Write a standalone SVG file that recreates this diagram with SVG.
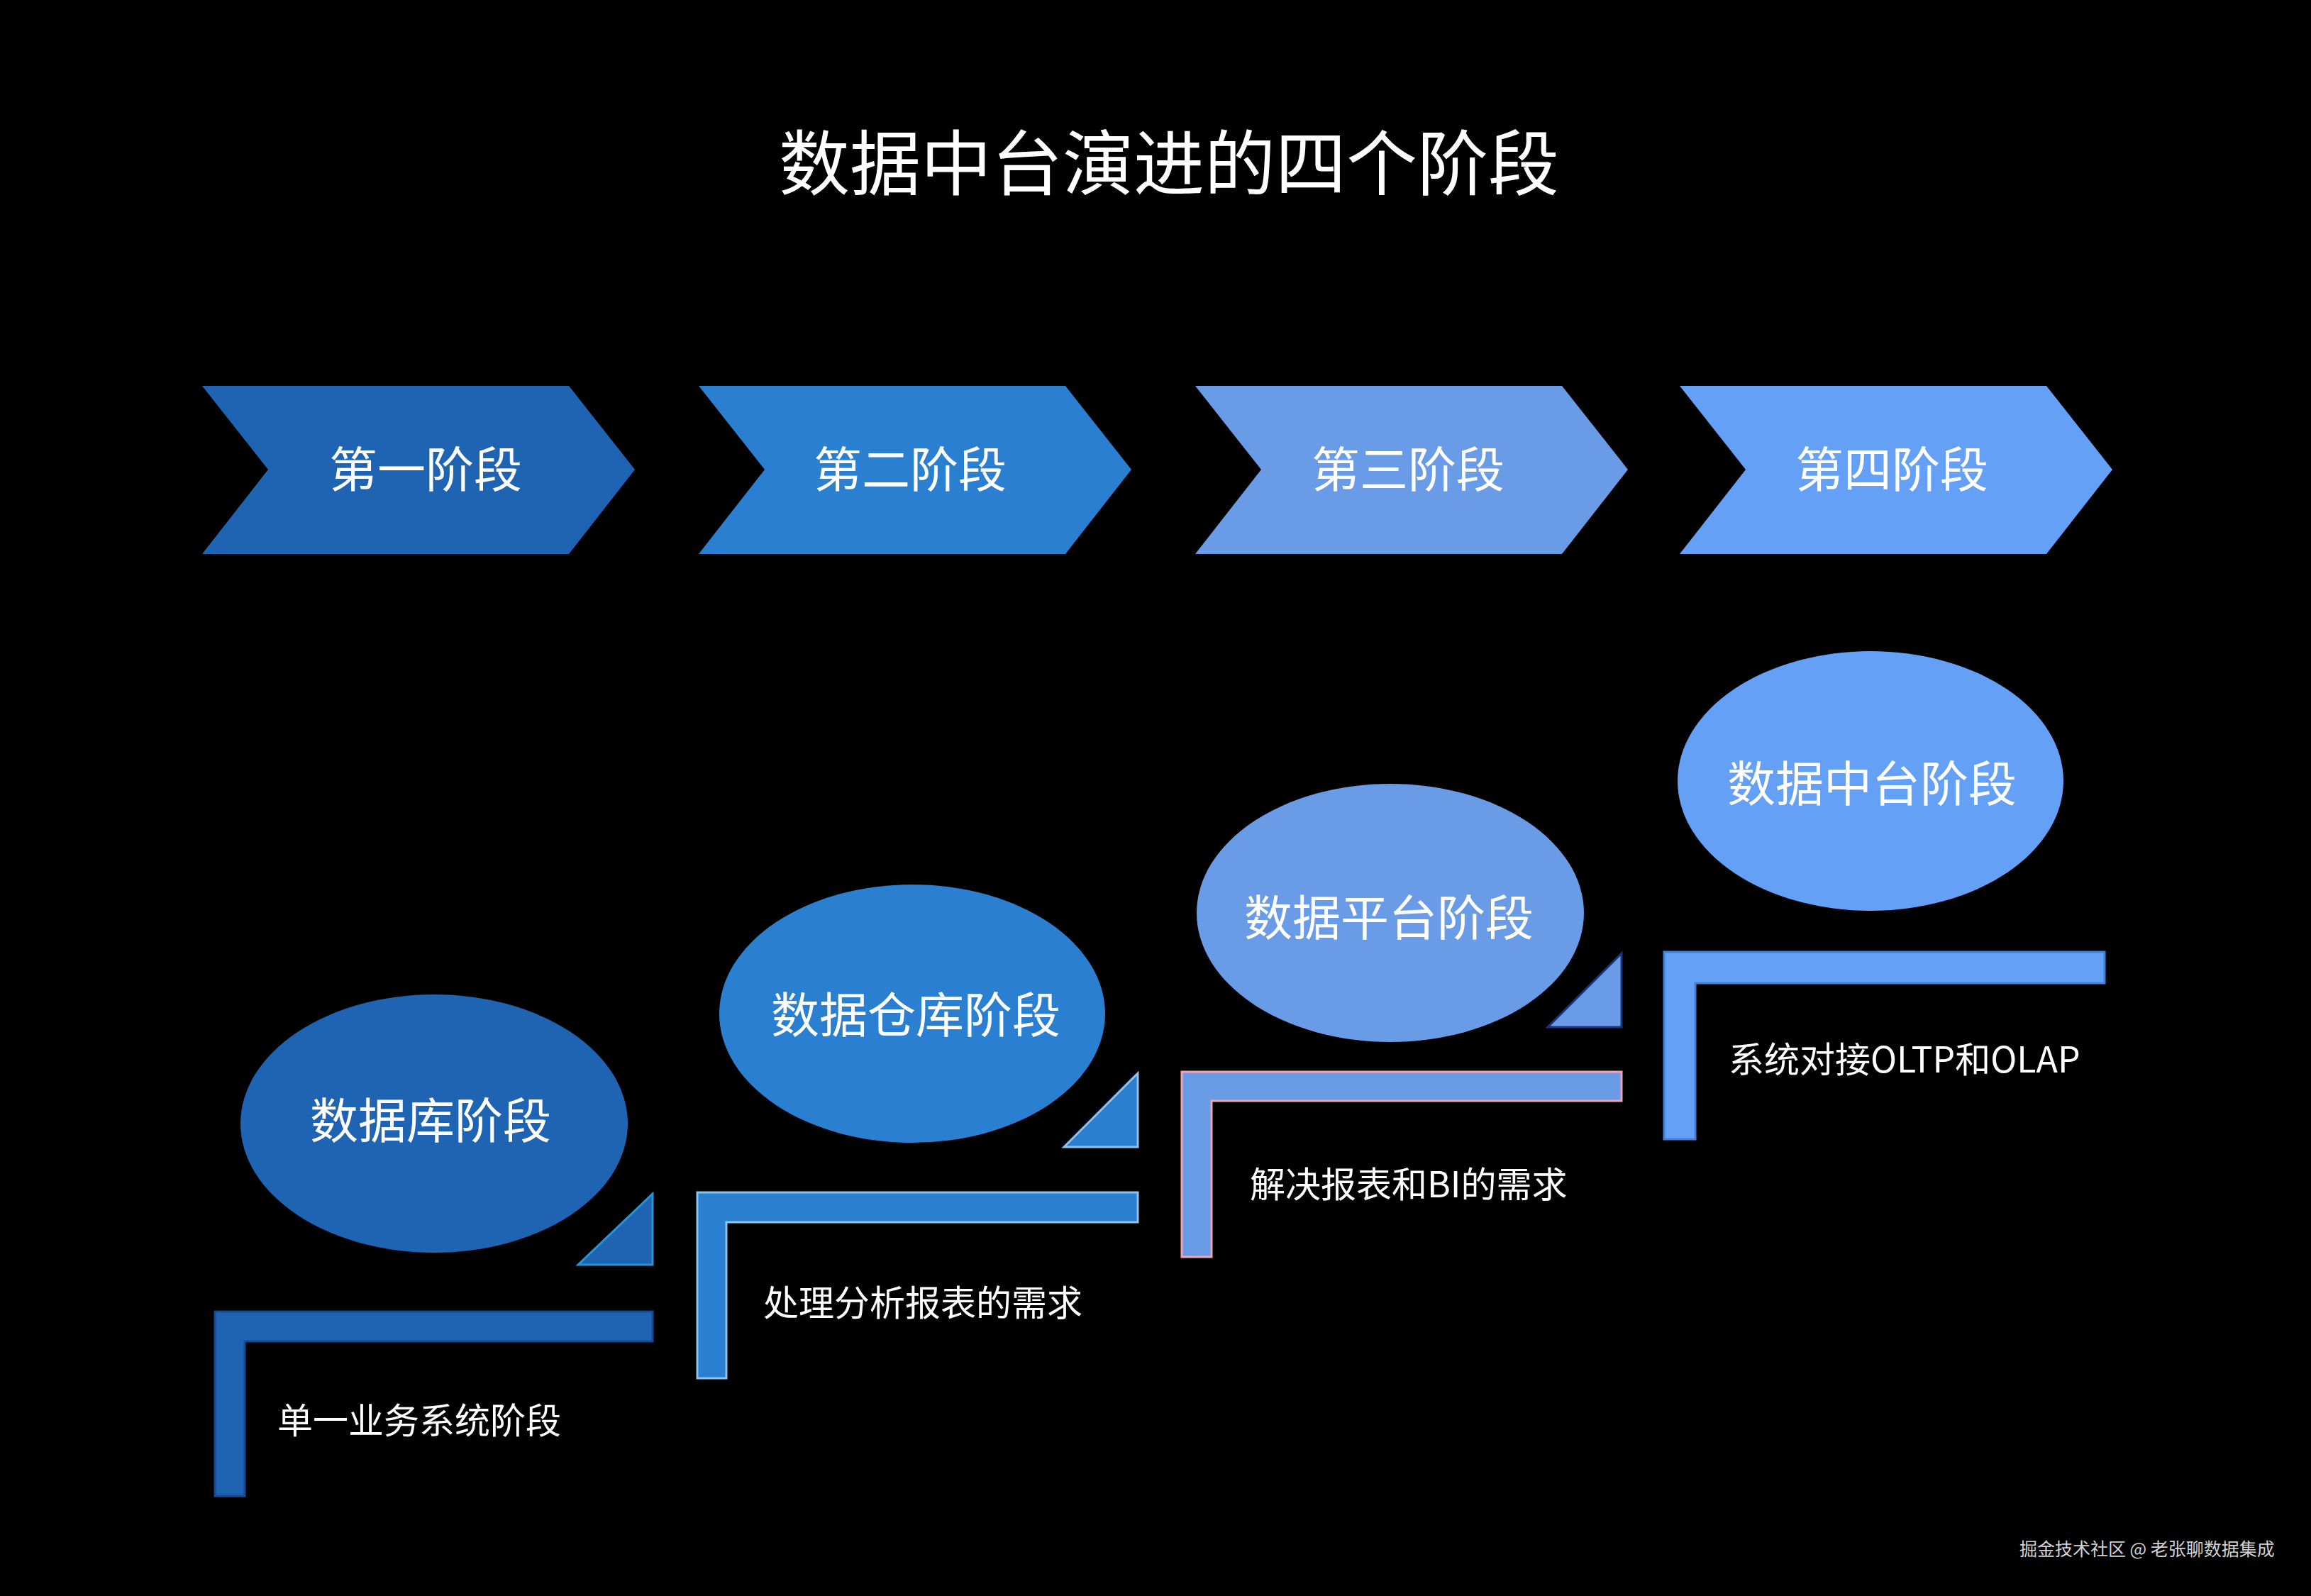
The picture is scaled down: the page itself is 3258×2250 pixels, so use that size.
<svg xmlns="http://www.w3.org/2000/svg" width="3258" height="2250" viewBox="0 0 3258 2250">
<style>
text{font-family:"Noto Sans CJK SC","Noto Sans",sans-serif;fill:#ffffff}
.title{font-size:100px;text-anchor:middle}
.chev{font-size:68px;text-anchor:middle}
.ell{font-size:68px;text-anchor:middle}
.desc{font-size:50px}
.wm{font-size:25px;fill:#d2d2d2}
.c1{fill:#1F64B3}
.c2{fill:#2A7FD1}
.c3{fill:#6A9BE6}
.c4{fill:#64A0F6}
</style>
<rect x="0" y="0" width="3258" height="2250" fill="#000000"/>
<text class="title" x="1648" y="267">数据中台演进的四个阶段</text>

<g id="chevron1">
<polygon class="c1" points="285,544 802,544 895,662 802,781 285,781 378,662"/>
<text class="chev" x="600" y="687">第一阶段</text>
</g>
<g id="chevron2">
<polygon class="c2" points="985,544 1502,544 1595,662 1502,781 985,781 1078,662"/>
<text class="chev" x="1283" y="687">第二阶段</text>
</g>
<g id="chevron3">
<polygon class="c3" points="1685,544 2202,544 2295,662 2202,781 1685,781 1778,662"/>
<text class="chev" x="1985" y="687">第三阶段</text>
</g>
<g id="chevron4">
<polygon class="c4" points="2368,544 2885,544 2978,662 2885,781 2368,781 2461,662"/>
<text class="chev" x="2667" y="687">第四阶段</text>
</g>

<g id="stage1">
<ellipse class="c1" cx="612" cy="1584" rx="273" ry="182"/>
<text class="ell" x="607" y="1605">数据库阶段</text>
<polygon class="c1" points="815,1783 920,1683 920,1783" stroke="#2A93D6" stroke-width="3"/>
<path class="c1" d="M303,1849 H920 V1891 H345 V2109 H303 Z" stroke="#174A94" stroke-width="3"/>
<text class="desc" x="391" y="2021">单一业务系统阶段</text>
</g>

<g id="stage2">
<ellipse class="c2" cx="1286" cy="1429" rx="272" ry="182"/>
<text class="ell" x="1291" y="1456">数据仓库阶段</text>
<polygon class="c2" points="1500,1617 1604,1513 1604,1617" stroke="#8CC4F0" stroke-width="3"/>
<path class="c2" d="M983,1681 H1604 V1723 H1024 V1943 H983 Z" stroke="#8CC4F0" stroke-width="3"/>
<text class="desc" x="1076" y="1855">处理分析报表的需求</text>
</g>

<g id="stage3">
<ellipse class="c3" cx="1960" cy="1287" rx="273" ry="182"/>
<text class="ell" x="1958" y="1319">数据平台阶段</text>
<polygon class="c3" points="2182,1448 2286,1344 2286,1448" stroke="#17357A" stroke-width="3"/>
<path class="c3" d="M1666,1511 H2286 V1552 H1708 V1772 H1666 Z" stroke="#F2A3B6" stroke-width="3"/>
<text class="desc" x="1762" y="1688">解决报表和BI的需求</text>
</g>

<g id="stage4">
<ellipse class="c4" cx="2637" cy="1101" rx="272" ry="183"/>
<text class="ell" x="2639" y="1130">数据中台阶段</text>
<path class="c4" d="M2346,1342 H2967 V1386 H2390 V1606 H2346 Z" stroke="#3D84D8" stroke-width="3"/>
<text class="desc" x="2437" y="1512">系统对接OLTP和OLAP</text>
</g>

<text class="wm" x="2847" y="2193">掘金技术社区 @ 老张聊数据集成</text>
</svg>
